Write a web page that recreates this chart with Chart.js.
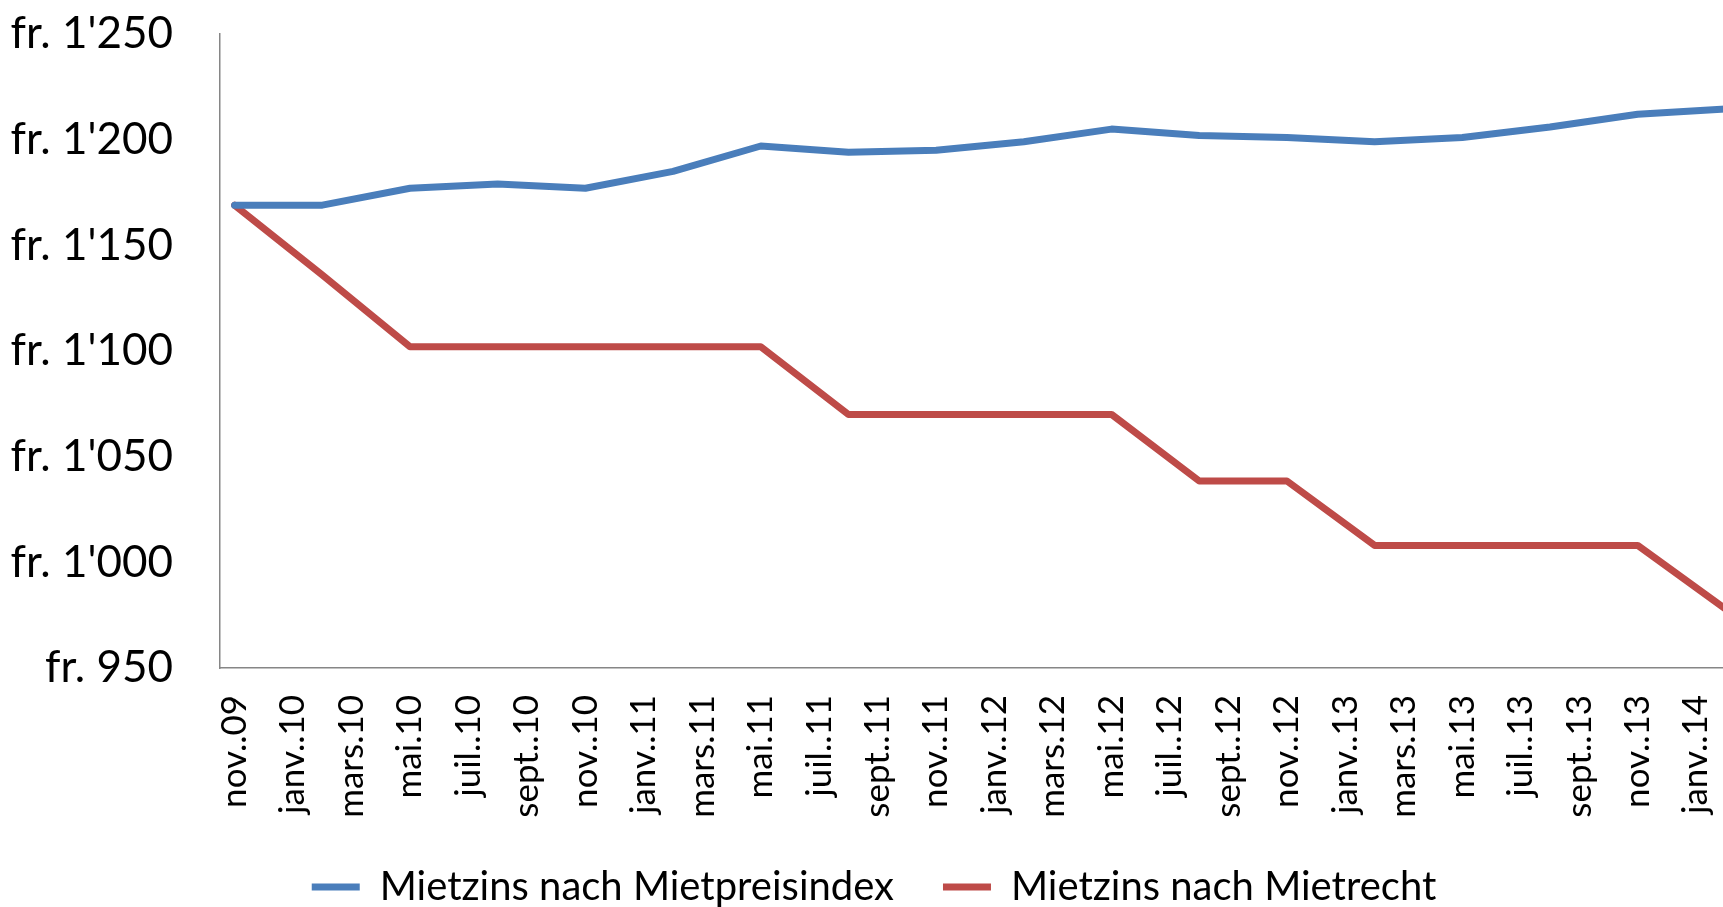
<!DOCTYPE html>
<html>
<head>
<meta charset="utf-8">
<script src="https://cdn.jsdelivr.net/npm/chart.js@4"></script>
<style>
  html, body { margin: 0; padding: 0; overflow: hidden; background: #fff; }
  /* canvas is a bit wider than the window: the original chart is cut off on the right */
  #wrap { width: 1723px; height: 907px; overflow: hidden; }
</style>
</head>
<body>
<div id="wrap"><canvas id="rentChart" width="1760" height="917"></canvas></div>
<script>
// monthly categories, label shown on every second month
const months = [
  'nov..09', 'déc..09',
  'janv..10', 'févr..10', 'mars.10', 'avr..10', 'mai.10', 'juin.10', 'juil..10', 'août.10', 'sept..10', 'oct..10', 'nov..10', 'déc..10',
  'janv..11', 'févr..11', 'mars.11', 'avr..11', 'mai.11', 'juin.11', 'juil..11', 'août.11', 'sept..11', 'oct..11', 'nov..11', 'déc..11',
  'janv..12', 'févr..12', 'mars.12', 'avr..12', 'mai.12', 'juin.12', 'juil..12', 'août.12', 'sept..12', 'oct..12', 'nov..12', 'déc..12',
  'janv..13', 'févr..13', 'mars.13', 'avr..13', 'mai.13', 'juin.13', 'juil..13', 'août.13', 'sept..13', 'oct..13', 'nov..13', 'déc..13',
  'janv..14', 'févr..14'
];

// values only exist every quarter (nov, févr, mai, août)
const quarterMonths = [
  'nov..09', 'févr..10', 'mai.10', 'août.10', 'nov..10', 'févr..11', 'mai.11', 'août.11', 'nov..11',
  'févr..12', 'mai.12', 'août.12', 'nov..12', 'févr..13', 'mai.13', 'août.13', 'nov..13', 'févr..14'
];
const indexRent = [1169, 1169, 1177, 1179, 1177, 1185, 1197, 1194, 1195, 1199, 1205, 1202, 1201, 1199, 1201, 1206, 1212, 1214.5];
const lawRent   = [1169, 1136, 1102, 1102, 1102, 1102, 1102, 1070, 1070, 1070, 1070, 1038.5, 1038.5, 1008, 1008, 1008, 1008, 978];

const yTicks = [950, 1000, 1050, 1100, 1150, 1200, 1250];

function toPoints(values) {
  return quarterMonths.map((m, i) => ({ x: m, y: values[i] }));
}

function fr(v) {
  const s = String(v);
  return 'fr. ' + (s.length > 3 ? s.slice(0, s.length - 3) + "'" + s.slice(-3) : s);
}

// keep the scales from pushing the plot area around, layout padding decides
function noScalePadding(scale) {
  scale.paddingTop = 0;
  scale.paddingBottom = 0;
  scale.paddingLeft = 0;
  scale.paddingRight = 0;
}

const axisColor = '#868686';

const ctx = document.getElementById('rentChart').getContext('2d');
const rentChart = new Chart(ctx, {
  type: 'line',
  data: {
    labels: months,
    datasets: [{
      label: 'Mietzins nach Mietpreisindex',
      data: toPoints(indexRent),
      borderColor: '#4A7EBB',
      backgroundColor: '#4A7EBB',
      borderWidth: 7,
      borderCapStyle: 'round',
      borderJoinStyle: 'round',
      pointRadius: 0,
      spanGaps: true
    }, {
      label: 'Mietzins nach Mietrecht',
      data: toPoints(lawRent),
      borderColor: '#BE4B48',
      backgroundColor: '#BE4B48',
      borderWidth: 7,
      borderCapStyle: 'round',
      borderJoinStyle: 'round',
      pointRadius: 0,
      spanGaps: true
    }]
  },
  options: {
    responsive: false,
    animation: false,
    layout: { padding: { left: 8, right: 20, top: 34, bottom: 0 } },
    plugins: {
      tooltip: { enabled: false },
      legend: {
        position: 'bottom',
        labels: {
          usePointStyle: true,
          pointStyle: 'line',
          pointStyleWidth: 48,
          padding: 49,
          color: '#000',
          font: { family: 'Lato', size: 40 }
        }
      }
    },
    scales: {
      x: {
        type: 'category',
        offset: true,
        grid: { display: false, drawTicks: false },
        border: { display: true, color: axisColor, width: 1.5 },
        afterFit: (scale) => { scale.height = 150; noScalePadding(scale); },
        ticks: {
          autoSkip: false,
          minRotation: 90,
          maxRotation: 90,
          padding: 27,
          color: '#000',
          font: { family: 'Lato', size: 35 },
          callback: function (value, index) {
            return index % 2 === 0 ? months[index] : '';
          }
        }
      },
      y: {
        min: 950,
        max: 1250,
        grid: { display: false, drawTicks: false },
        border: { display: true, color: axisColor, width: 1.5 },
        afterFit: (scale) => { scale.width = 212; noScalePadding(scale); },
        afterBuildTicks: (scale) => { scale.ticks = yTicks.map(v => ({ value: v })); },
        ticks: {
          padding: 47,
          color: '#000',
          font: { family: 'Lato', size: 44 },
          callback: (value) => fr(value)
        }
      }
    }
  }
});
</script>
</body>
</html>
